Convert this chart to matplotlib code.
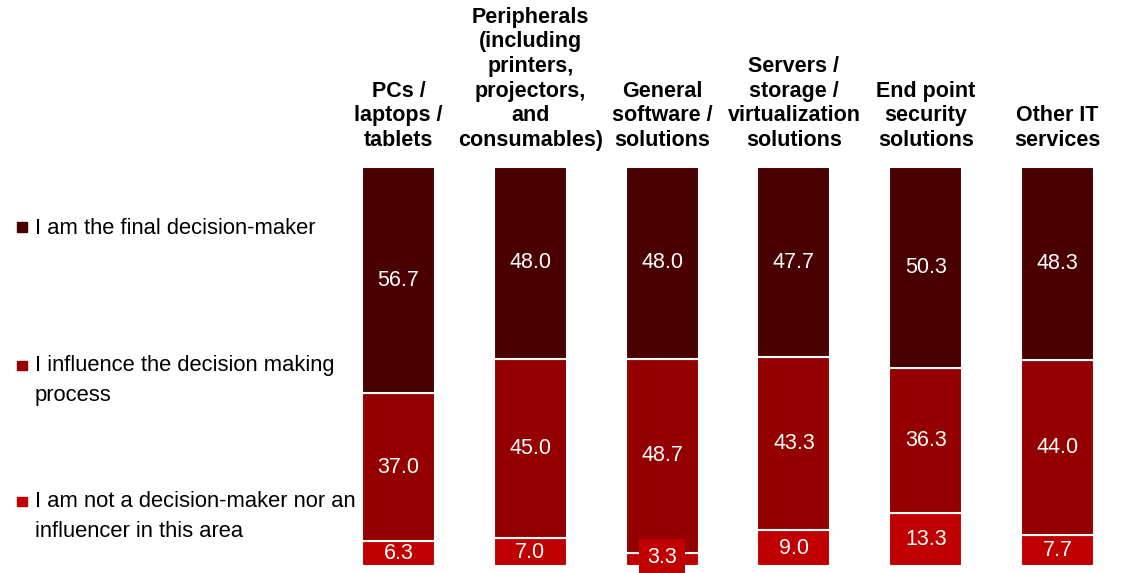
import matplotlib.pyplot as plt
from matplotlib.patches import Rectangle

plt.rcParams['font.family'] = ['Liberation Sans', 'DejaVu Sans']

categories = ["PCs /\nlaptops /\ntablets",
              "Peripherals\n(including\nprinters,\nprojectors,\nand\nconsumables)",
              "General\nsoftware /\nsolutions",
              "Servers /\nstorage /\nvirtualization\nsolutions",
              "End point\nsecurity\nsolutions",
              "Other IT\nservices"]
not_involved = [6.3, 7.0, 3.3, 9.0, 13.3, 7.7]
influence = [37.0, 45.0, 48.7, 43.3, 36.3, 44.0]
final_maker = [56.7, 48.0, 48.0, 47.7, 50.3, 48.3]

series_names = ["I am the final decision-maker",
                "I influence the decision making\nprocess",
                "I am not a decision-maker nor an\ninfluencer in this area"]
colors = ["#4a0000", "#940000", "#c00000"]

fig = plt.figure(figsize=(11.23, 5.73), dpi=100)
ax = fig.add_axes([0.2962, 0.0122, 0.7042, 0.6963])

x = range(len(categories))
w = 0.554
bottoms = [0] * len(categories)
for vals, col in [(not_involved, colors[2]), (influence, colors[1]), (final_maker, colors[0])]:
    ax.bar(x, vals, w, bottom=bottoms, color=col, edgecolor="white", linewidth=1.5)
    for i, v in enumerate(vals):
        y = bottoms[i] + v / 2
        bbox = None
        if v < 5:
            # label sticks out of the thin segment on a red box
            y = bottoms[i] + v / 2 + 0.4
            bbox = dict(boxstyle="square,pad=0.38", fc=col, ec="none")
        ax.text(i, y, f"{v:.1f}", ha="center", va="center", color="white",
                fontsize=15.5, bbox=bbox, clip_on=False)
    bottoms = [b + v for b, v in zip(bottoms, vals)]

for i, cat in enumerate(categories):
    ax.text(i, 104.0, cat, ha="center", va="bottom", fontsize=15.5,
            fontweight="bold", linespacing=1.23)

ax.set_xlim(-0.5, 5.5)
ax.set_ylim(0, 100)
ax.axis("off")

# legend on the left
leg_y = [0.6035, 0.362, 0.125]
for name, col, yy in zip(series_names, colors, leg_y):
    fig.patches.append(Rectangle((0.0152, yy - 0.008), 0.0085, 0.0165,
                                 transform=fig.transFigure, color=col))
    if "\n" not in name:
        fig.text(0.031, yy - 0.003, name, ha="left", va="center", fontsize=15.8)
    else:
        fig.text(0.031, yy + 0.0185, name, ha="left", va="top", fontsize=15.8,
                 linespacing=1.55)

plt.savefig("out.png", dpi=100)
plt.close()
